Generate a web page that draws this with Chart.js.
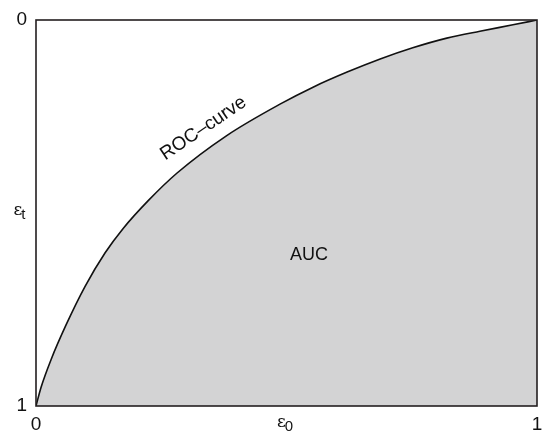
<!DOCTYPE html>
<html>
<head>
<meta charset="utf-8">
<style>
html,body{margin:0;padding:0;background:#fff;}
#wrap{width:542px;height:431px;}
</style>
<script src="https://cdn.jsdelivr.net/npm/chart.js@4"></script>
</head>
<body>
<div id="wrap"><canvas id="c" width="542" height="431"></canvas></div>
<script>
const eps0 = [0, 0.010, 0.030, 0.060, 0.098, 0.138, 0.174, 0.224, 0.281, 0.380, 0.487, 0.553, 0.621, 0.687, 0.752, 0.820, 0.886, 0.952, 1];
const epsT = [1, 0.952, 0.880, 0.790, 0.690, 0.603, 0.540, 0.468, 0.397, 0.300, 0.218, 0.174, 0.135, 0.101, 0.072, 0.047, 0.029, 0.0125, 0];
const xTicks = [0, 1];
const yTicks = [0, 1];
const curveLabel = 'ROC–curve';
const areaLabel = 'AUC';

const FONT = '"Liberation Sans", Arial, Helvetica, sans-serif';

const overlay = {
  id: 'overlay',
  afterDatasetsDraw(chart) {
    const ctx = chart.ctx;
    const a = chart.chartArea;
    const xs = chart.scales.x, ys = chart.scales.y;
    ctx.save();
    ctx.strokeStyle = '#231f20';
    ctx.lineWidth = 1.6;
    ctx.strokeRect(a.left, a.top, a.right - a.left, a.bottom - a.top);
    ctx.fillStyle = '#111';
    ctx.font = '18px ' + FONT;
    ctx.textAlign = 'center';
    ctx.textBaseline = 'middle';
    ctx.fillText(areaLabel, xs.getPixelForValue(0.545), ys.getPixelForValue(0.61));
    ctx.save();
    ctx.translate(xs.getPixelForValue(0.34), ys.getPixelForValue(0.292));
    ctx.rotate(-34 * Math.PI / 180);
    ctx.font = '19px ' + FONT;
    ctx.textAlign = 'center';
    ctx.textBaseline = 'alphabetic';
    ctx.fillText(curveLabel, 0, 0);
    ctx.restore();
    function sub(main, s, x, y) {
      ctx.font = '17px "DejaVu Serif", serif';
      ctx.textAlign = 'left';
      ctx.textBaseline = 'alphabetic';
      const w = ctx.measureText(main).width;
      ctx.font = '15px ' + FONT;
      const w2 = ctx.measureText(s).width;
      const x0 = x - (w + w2) / 2;
      ctx.font = '17px "DejaVu Serif", serif';
      ctx.fillText(main, x0, y);
      ctx.font = '15px ' + FONT;
      ctx.fillText(s, x0 + w - 1, y + 4);
    }
    sub('ε', 't', 20, (a.top + a.bottom) / 2 + 2);
    sub('ε', '0', (a.left + a.right) / 2 - 1, 427);
    ctx.restore();
  }
};

new Chart(document.getElementById('c'), {
  type: 'line',
  data: {
    datasets: [{
      data: eps0.map((v, i) => ({x: v, y: epsT[i]})),
      borderColor: '#111',
      borderWidth: 1.6,
      backgroundColor: '#d3d3d4',
      fill: {value: 1},
      pointRadius: 0,
      cubicInterpolationMode: 'monotone'
    }]
  },
  options: {
    responsive: false,
    animation: false,
    devicePixelRatio: 1,
    layout: {padding: {left: 0, right: 5, top: 20, bottom: 0}},
    plugins: {legend: {display: false}, tooltip: {enabled: false}},
    scales: {
      x: {
        type: 'linear', min: 0, max: 1,
        afterFit: s => { s.height = 25; s.paddingLeft = 0; s.paddingRight = 0; },
        afterBuildTicks: s => { s.ticks = xTicks.map(v => ({value: v})); },
        grid: {display: false, drawTicks: false},
        border: {display: false},
        ticks: {color: '#111', font: {size: 19, family: FONT}, padding: 7, maxRotation: 0, autoSkip: false}
      },
      y: {
        type: 'linear', min: 0, max: 1, reverse: true,
        afterFit: s => { s.width = 36; s.paddingTop = 0; s.paddingBottom = 0; },
        afterBuildTicks: s => { s.ticks = yTicks.map(v => ({value: v})); },
        grid: {display: false, drawTicks: false},
        border: {display: false},
        ticks: {color: '#111', font: {size: 19, family: FONT}, padding: 9, autoSkip: false}
      }
    }
  },
  plugins: [overlay]
});
</script>
</body>
</html>
